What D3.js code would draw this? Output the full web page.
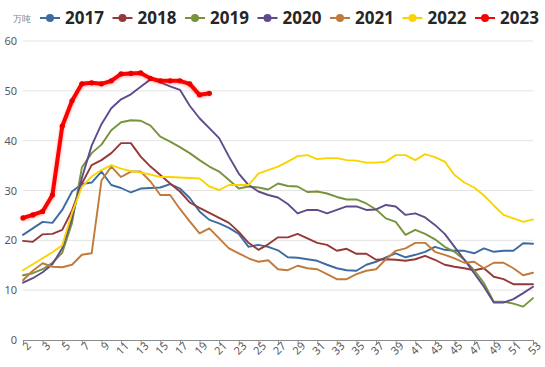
<!DOCTYPE html>
<meta charset="utf-8">

<!-- Load d3.js -->
<script src="https://d3js.org/d3.v7.min.js"></script>

<body style="margin:0;background:#fff">
  <!-- Create a div where the graph will take place -->
  <div id="my_dataviz"></div>
  <script>

  // categories: week number shown on the axis (first one is printed as "2" in the source)
  const weeks = ["2","2","3","4","5","6","7","8","9","10","11","12","13","14","15","16","17","18","19","20",
    "21","22","23","24","25","26","27","28","29","30","31","32","33","34","35","36","37","38","39","40",
    "41","42","43","44","45","46","47","48","49","50","51","52","53"]

  const years = ["2017","2018","2019","2020","2021","2022","2023"]
  const colors = ["#3d6ba3","#943838","#77933c","#5f4b8b","#c27a3a","#fad400","#ff0000"]

  // values in 万吨, one per week
  const s2017 = [21.1,22.4,23.7,23.5,26.1,29.8,31.3,31.6,33.8,31.1,30.5,29.6,30.4,30.5,30.6,31.3,30.4,28.5,25.8,24.1,
    23.4,22.5,21.3,18.7,19.1,18.7,18.0,16.6,16.5,16.2,15.9,15.1,14.4,14.0,13.9,15.1,15.7,16.6,17.4,16.6,
    17.1,17.7,18.7,18.1,17.9,17.9,17.4,18.4,17.7,17.9,17.9,19.4,19.3]
  const s2018 = [19.9,19.7,21.2,21.3,22.1,26.0,31.4,35.1,36.1,37.5,39.5,39.5,36.8,34.8,33.1,31.4,29.8,27.6,26.5,25.5,
    24.5,23.5,21.7,19.5,18.1,19.2,20.6,20.6,21.3,20.4,19.5,19.1,17.9,18.3,17.3,17.3,16.1,16.2,16.1,15.9,
    16.2,16.9,16.1,15.1,14.7,14.4,14.0,14.4,12.7,12.2,11.2,11.2,11.2]
  const s2019 = [13.0,13.4,14.2,15.5,17.5,23.5,34.6,37.5,39.2,42.1,43.7,44.1,44.0,43.0,40.8,39.8,38.7,37.5,36.1,34.8,
    33.8,32.1,30.4,30.8,30.6,30.2,31.4,30.9,30.8,29.7,29.8,29.4,28.7,28.2,28.2,27.4,26.2,24.4,23.7,21.1,
    22.1,21.3,20.2,18.7,17.7,16.1,14.0,11.4,7.7,7.7,7.3,6.7,8.4]
  const s2020 = [11.5,12.4,13.6,15.2,18.4,24.5,32.5,39.0,43.3,46.5,48.3,49.3,50.8,52.3,51.7,50.9,50.2,47.0,44.5,42.5,
    40.5,36.8,33.4,31.1,29.8,29.1,28.6,27.3,25.4,26.1,26.1,25.4,26.1,26.8,26.8,26.1,26.2,27.1,26.8,25.1,
    25.4,24.6,23.1,21.3,18.7,16.1,13.4,10.7,7.5,7.5,8.2,9.4,10.7]
  const s2021 = [12.0,13.9,15.4,14.7,14.6,15.1,17.1,17.4,32.0,34.8,32.7,33.8,33.8,31.8,29.1,29.1,26.3,23.8,21.4,22.4,
    20.4,18.4,17.4,16.4,15.7,16.0,14.2,14.0,14.9,14.4,14.2,13.2,12.2,12.2,13.2,13.9,14.2,16.2,17.9,18.4,
    19.5,19.5,17.7,17.1,16.4,15.5,15.7,14.4,15.5,15.5,14.4,13.0,13.5]
  const s2022 = [14.0,15.2,16.4,17.6,19.0,25.5,30.7,32.8,34.1,35.1,34.4,33.9,33.6,33.2,32.7,32.7,32.6,32.5,32.4,30.8,
    30.1,31.1,31.1,31.1,33.4,34.1,34.8,35.8,36.9,37.1,36.3,36.5,36.5,36.1,36.0,35.6,35.6,35.8,37.1,37.1,
    36.1,37.3,36.7,35.8,33.1,31.6,30.6,29.0,27.0,25.1,24.4,23.7,24.2]
  const s2023 = [24.5,25.1,25.8,29.1,42.9,48.0,51.4,51.6,51.4,52.0,53.4,53.5,53.6,52.5,52.0,52.0,52.0,51.4,49.2,49.5]

  const series = [s2017, s2018, s2019, s2020, s2021, s2022, s2023]
  const yTicks = [0, 10, 20, 30, 40, 50, 60]

  // set the dimensions and margins of the graph
  const W = 545, H = 367
  const margin = {top: 41, right: 12, bottom: 27, left: 23}
  const width = W - margin.left - margin.right,
    height = H - margin.top - margin.bottom

  const svg = d3.select("#my_dataviz")
    .append("svg")
    .attr("width", W)
    .attr("height", H)
    .style("font-family", "'Noto Sans', sans-serif")

  // soft glow under the 2023 line
  svg.append("defs").append("filter")
    .attr("id", "glow")
    .attr("x", "-10%").attr("y", "-10%").attr("width", "120%").attr("height", "120%")
    .append("feDropShadow")
    .attr("dx", 0).attr("dy", 1)
    .attr("stdDeviation", 1.6)
    .attr("flood-color", "#ff0000")
    .attr("flood-opacity", 0.35)

  const g = svg.append("g")
    .attr("transform", `translate(${margin.left},${margin.top})`)

  // X scale: one point per week
  const x = d3.scalePoint()
    .domain(d3.range(weeks.length))
    .range([0, width])

  // Y scale
  const y = d3.scaleLinear()
    .domain([0, 60])
    .range([height, 0])

  // gridlines
  g.append("g")
    .selectAll("line")
    .data(yTicks.filter(d => d > 0))
    .join("line")
      .attr("x1", 0)
      .attr("x2", width)
      .attr("y1", d => y(d))
      .attr("y2", d => y(d))
      .attr("stroke", "#e3e3e3")
      .attr("stroke-width", 1)

  // Y axis labels
  const yAxis = g.append("g")
    .call(d3.axisLeft(y).tickValues(yTicks).tickSize(0).tickPadding(6))
  yAxis.select(".domain").remove()
  yAxis.selectAll("text")
    .attr("font-size", 11)
    .attr("font-family", "'Noto Sans', sans-serif")
    .attr("fill", "#595959")

  // X axis
  const xAxis = g.append("g")
    .attr("transform", `translate(0,${height})`)
    .call(d3.axisBottom(x)
      .tickValues(d3.range(0, weeks.length, 2))
      .tickFormat(i => weeks[i])
      .tickSizeInner(4)
      .tickSizeOuter(0))
  xAxis.select(".domain").attr("stroke", "#8c8c8c")
  xAxis.selectAll(".tick line").attr("stroke", "#8c8c8c")
  xAxis.selectAll("text")
    .attr("font-size", 11)
    .attr("font-family", "'Noto Sans', sans-serif")
    .attr("fill", "#595959")
    .style("text-anchor", "end")
    .attr("dx", "0.1em")
    .attr("dy", "0.4em")
    .attr("y", 6)
    .attr("transform", "rotate(-45)")

  // lines
  const line = d3.line()
    .x((d, i) => x(i))
    .y(d => y(d))

  series.forEach(function(s, k) {
    const last = k === series.length - 1
    g.append("path")
      .datum(s)
      .attr("fill", "none")
      .attr("stroke", colors[k])
      .attr("stroke-width", last ? 4 : 1.9)
      .attr("stroke-linejoin", "round")
      .attr("stroke-linecap", "round")
      .attr("filter", last ? "url(#glow)" : null)
      .attr("d", line)
  })

  // markers on 2023
  g.append("g")
    .selectAll("circle")
    .data(s2023)
    .join("circle")
      .attr("cx", (d, i) => x(i))
      .attr("cy", d => y(d))
      .attr("r", 2.6)
      .attr("fill", "#e60000")

  // unit label
  svg.append("text")
    .attr("x", 13)
    .attr("y", 22)
    .attr("font-size", 9)
    .attr("fill", "#7f7f7f")
    .text("万吨")

  // legend
  const legend = svg.append("g")
    .selectAll("g")
    .data(years)
    .join("g")
      .attr("transform", (d, i) => `translate(${50 + i * 72.5},18)`)

  legend.append("line")
    .attr("x1", -10).attr("x2", 10)
    .attr("stroke", (d, i) => colors[i])
    .attr("stroke-width", 2)
  legend.append("circle")
    .attr("r", 4)
    .attr("fill", (d, i) => colors[i])
  legend.append("text")
    .attr("x", 15)
    .attr("y", 6)
    .attr("font-size", 17)
    .attr("font-weight", "bold")
    .attr("fill", "#262626")
    .text(d => d)

  </script>
</body>
</html>
